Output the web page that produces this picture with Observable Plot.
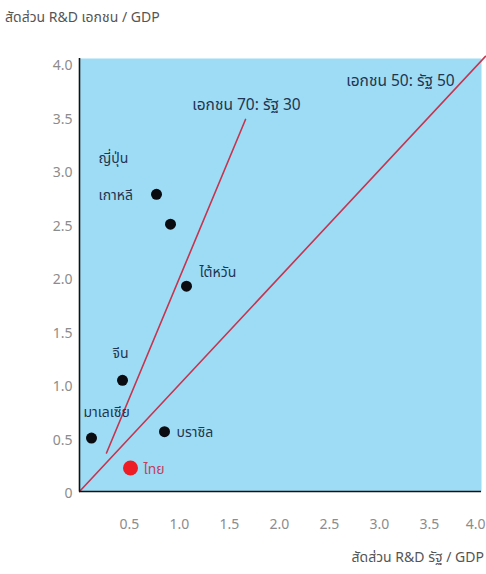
<!DOCTYPE html>
<html>
<head>
<meta charset="utf-8">
<script src="https://cdn.jsdelivr.net/npm/d3@7"></script>
<script src="https://cdn.jsdelivr.net/npm/@observablehq/plot@0.6"></script>
<style>
  html, body { margin: 0; padding: 0; background: #fff; }
  body { width: 486px; height: 574px; overflow: hidden; font-family: "Noto Sans Thai", "Noto Sans", sans-serif; font-stretch: condensed; }
  #ytitle { height: 32px; box-sizing: border-box; padding: 11px 0 0 5px; font-size: 14px; line-height: 14px; color: #555; white-space: nowrap; }
  #xtitle { height: 28px; box-sizing: border-box; padding: 5px 2px 0 0; font-size: 14px; line-height: 14px; color: #555; text-align: right; white-space: nowrap; }
  #chart svg { display: block; }
  #chart svg text { font-stretch: condensed; }
</style>
</head>
<body>
<div id="ytitle">สัดส่วน R&amp;D เอกชน / GDP</div>
<div id="chart"></div>
<div id="xtitle">สัดส่วน R&amp;D รัฐ / GDP</div>
<script>
// Country data: government R&D / GDP (x) and private R&D / GDP (y)
const countries = ["เกาหลี", "ญี่ปุ่น", "ไต้หวัน", "จีน", "มาเลเซีย", "บราซิล", "ไทย"];
const govShare = [0.77, 0.91, 1.07, 0.43, 0.12, 0.85, 0.51];
const privShare = [2.78, 2.50, 1.92, 1.04, 0.50, 0.56, 0.22];

// Reference lines (as drawn in the picture)
const line5050Gov = [0, 4.06];
const line5050Priv = [0, 4.07];
const line7030Gov = [0.27, 1.66];
const line7030Priv = [0.36, 3.48];
const lineLabels = ["เอกชน 50: รัฐ 50", "เอกชน 70: รัฐ 30"];

// Tick labels
const xTicks = [0.5, 1.0, 1.5, 2.0, 2.5, 3.0, 3.5, 4.0];
const yTicks = [0, 0.5, 1.0, 1.5, 2.0, 2.5, 3.0, 3.5, 4.0];

const highlight = "ไทย";

const pts = countries.map((c, i) => ({ name: c, x: govShare[i], y: privShare[i] }));
const l5050 = line5050Gov.map((g, i) => ({ x: g, y: line5050Priv[i] }));
const l7030 = line7030Gov.map((g, i) => ({ x: g, y: line7030Priv[i] }));

// label placement (style, in pixels)
const labelOffset = {
  "เกาหลี": { dx: -58, dy: 1, anchor: "start" },
  "ญี่ปุ่น": { dx: -72, dy: -66, anchor: "start" },
  "ไต้หวัน": { dx: 13, dy: -14, anchor: "start" },
  "จีน": { dx: -2, dy: -27, anchor: "middle" },
  "มาเลเซีย": { dx: -8, dy: -26, anchor: "start" },
  "บราซิล": { dx: 12, dy: 1, anchor: "start" },
  "ไทย": { dx: 13, dy: 2, anchor: "start" }
};

const navy = "#1f3550";
const lineRed = "#c6344f";
const font = "Noto Sans Thai, Noto Sans, sans-serif";
const tickStyle = { tickSize: 0, fontSize: 14, fill: "#8c8c8c", label: null };
const lastX = xTicks[xTicks.length - 1];

const labelMarks = pts.map(p => Plot.text([p], {
  x: "x", y: "y", text: "name",
  dx: labelOffset[p.name].dx, dy: labelOffset[p.name].dy,
  textAnchor: labelOffset[p.name].anchor,
  fill: p.name === highlight ? "#c2405e" : navy,
  fontSize: 14
}));

const chart = Plot.plot({
  width: 486,
  height: 514,
  marginTop: 26,
  marginBottom: 55,
  marginLeft: 79,
  marginRight: 5,
  style: { fontFamily: font, background: "transparent" },
  x: { domain: [0, 4.02], label: null },
  y: { domain: [0, 4.05], label: null },
  marks: [
    Plot.frame({ fill: "#9edcf5", stroke: null }),
    Plot.axisX({ ...tickStyle, ticks: xTicks.filter(t => t !== lastX), tickPadding: 28, tickFormat: d => d.toFixed(1) }),
    Plot.axisX({ ...tickStyle, ticks: [lastX], tickPadding: 28, textAnchor: "end", dx: 6, tickFormat: d => d.toFixed(1) }),
    Plot.axisY({ ...tickStyle, ticks: yTicks, tickPadding: 7, dy: 2, tickFormat: d => d === 0 ? "0" : d.toFixed(1) }),
    Plot.line(l5050, { x: "x", y: "y", stroke: lineRed, strokeWidth: 1.6, clip: false }),
    Plot.line(l7030, { x: "x", y: "y", stroke: lineRed, strokeWidth: 1.6 }),
    Plot.text([l5050[1]], { x: "x", y: "y", text: [lineLabels[0]], dx: -85, dy: 25, fontSize: 15.5, fill: navy, textAnchor: "middle" }),
    Plot.text([l7030[1]], { x: "x", y: "y", text: [lineLabels[1]], dx: 1, dy: -14, fontSize: 15.5, fill: navy, textAnchor: "middle" }),
    Plot.ruleX([0], { stroke: "#111", strokeWidth: 1.6 }),
    Plot.ruleY([0], { stroke: "#111", strokeWidth: 1.6 }),
    Plot.dot(pts.filter(p => p.name !== highlight), { x: "x", y: "y", r: 5.5, fill: "#0b0b12", stroke: null }),
    Plot.dot(pts.filter(p => p.name === highlight), { x: "x", y: "y", r: 7.5, fill: "#ee1d25", stroke: null }),
    ...labelMarks
  ]
});
document.getElementById("chart").appendChild(chart);
</script>
</body>
</html>
